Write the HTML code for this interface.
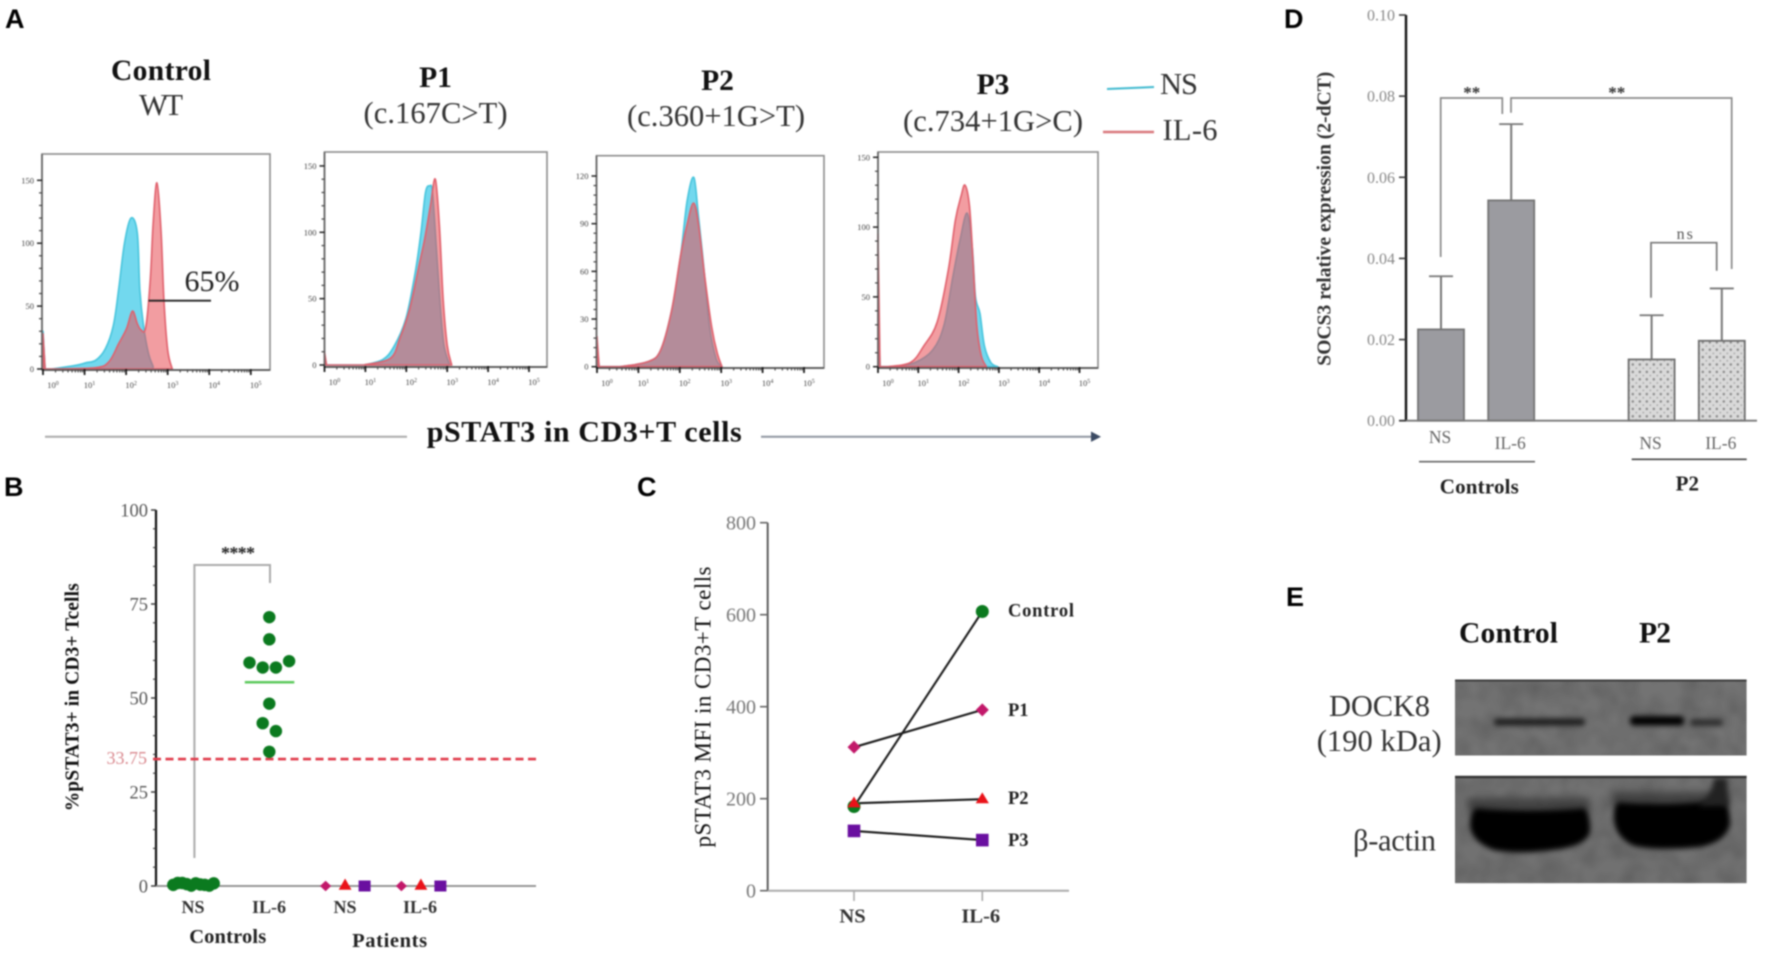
<!DOCTYPE html>
<html>
<head>
<meta charset="utf-8">
<title>pSTAT3 figure</title>
<style>
html,body{margin:0;padding:0;background:#fff;width:1766px;height:964px;overflow:hidden}
svg{display:block;filter:blur(0.75px)}
text{font-family:"Liberation Serif",serif}
.letter{font-family:"Liberation Sans",sans-serif;font-weight:700;font-size:27px;fill:#000}
.h{font-weight:700;font-size:29.5px;fill:#111}
.s{font-size:30.5px;fill:#333}
</style>
</head>
<body>
<svg id="fig" xmlns="http://www.w3.org/2000/svg" width="1766" height="964" viewBox="0 0 1766 964">
<defs>
<pattern id="dots" width="7" height="7.4" patternUnits="userSpaceOnUse">
<rect width="7" height="7.4" fill="#d9d9d9"/>
<circle cx="1.8" cy="1.9" r="1.25" fill="#8d8d8d"/>
<circle cx="5.3" cy="5.6" r="0.9" fill="#a8a8a8"/>
</pattern>
<filter id="soft" x="-20%" y="-80%" width="140%" height="260%" color-interpolation-filters="sRGB"><feGaussianBlur stdDeviation="2.6"/></filter>
<filter id="softer" x="-30%" y="-60%" width="160%" height="220%" color-interpolation-filters="sRGB"><feGaussianBlur stdDeviation="4"/></filter>
<filter id="grain" x="0" y="0" width="100%" height="100%" color-interpolation-filters="sRGB"><feTurbulence type="fractalNoise" baseFrequency="0.05" numOctaves="2" seed="4"/><feColorMatrix values="0 0 0 0 0.25  0 0 0 0 0.25  0 0 0 0 0.25  0.9 0.9 0 0 -0.7"/><feGaussianBlur stdDeviation="1.2"/></filter>
<clipPath id="blotClipTop"><rect x="1455" y="679.5" width="291.7" height="76"/></clipPath>
<clipPath id="blotClipBottom"><rect x="1455" y="775.7" width="291.7" height="107.6"/></clipPath>
</defs>

<!-- panel letters -->
<text class="letter" x="5" y="28">A</text>
<text class="letter" x="4" y="496">B</text>
<text class="letter" x="637" y="496">C</text>
<text class="letter" x="1284" y="28">D</text>
<text class="letter" x="1286" y="606">E</text>

<!-- panel A headings -->
<g>
<text class="h" x="161" y="80" text-anchor="middle" textLength="100">Control</text>
<text class="s" x="161" y="115" text-anchor="middle" textLength="44">WT</text>
<text class="h" x="435.5" y="87" text-anchor="middle">P1</text>
<text class="s" x="435.5" y="123" text-anchor="middle" textLength="144">(c.167C&gt;T)</text>
<text class="h" x="717.5" y="90" text-anchor="middle">P2</text>
<text class="s" x="716" y="126" text-anchor="middle" textLength="178">(c.360+1G&gt;T)</text>
<text class="h" x="993" y="94" text-anchor="middle">P3</text>
<text class="s" x="993" y="131" text-anchor="middle" textLength="180">(c.734+1G&gt;C)</text>
</g>

<g>
<line x1="1107" y1="89" x2="1154" y2="87" stroke="#3fb9cf" stroke-width="2"/>
<text class="s" x="1160" y="94" textLength="38">NS</text>
<line x1="1103" y1="132" x2="1154" y2="132" stroke="#d9777c" stroke-width="2.4"/>
<text class="s" x="1162.5" y="140" textLength="55">IL-6</text>
</g>

<g id="histograms"></g>

<text x="184.5" y="291" font-size="30" fill="#222" textLength="55">65%</text>
<line x1="148.5" y1="300.7" x2="211" y2="300.7" stroke="#222" stroke-width="1.8"/>

<g>
<line x1="45" y1="436.7" x2="407" y2="436.7" stroke="#aaaaaa" stroke-width="2"/>
<text x="426.7" y="441.7" font-size="30" font-weight="700" fill="#111" textLength="315">pSTAT3 in CD3+T cells</text>
<line x1="761" y1="436.7" x2="1092" y2="436.7" stroke="#8f96a0" stroke-width="2"/>
<polygon points="1091,431.5 1101,436.7 1091,441.9" fill="#3b4a63"/>
</g>

<!-- panel B -->
<g id="panelB">
<text transform="translate(78.5,697.3) rotate(-90)" text-anchor="middle" font-size="19.5" font-weight="700" fill="#111" textLength="228">%pSTAT3+ in CD3+ Tcells</text>
<polyline points="194.4,858 194.4,565 270,565 270,583" fill="none" stroke="#aaaaaa" stroke-width="2"/>
<text x="238" y="559" text-anchor="middle" font-size="18" font-weight="700" fill="#222" textLength="34">****</text>
<text x="193" y="913" text-anchor="middle" font-size="18" font-weight="700" fill="#333">NS</text>
<text x="269" y="913" text-anchor="middle" font-size="18" font-weight="700" fill="#333">IL-6</text>
<text x="345" y="913" text-anchor="middle" font-size="18" font-weight="700" fill="#333">NS</text>
<text x="420" y="913" text-anchor="middle" font-size="18" font-weight="700" fill="#333">IL-6</text>
<text x="227.7" y="943" text-anchor="middle" font-size="20.5" font-weight="700" fill="#222" textLength="77">Controls</text>
<text x="389.6" y="947" text-anchor="middle" font-size="20.5" font-weight="700" fill="#222" textLength="75">Patients</text>
</g>

<!-- panel C -->
<g id="panelC">
<text transform="translate(710.7,707) rotate(-90)" text-anchor="middle" font-size="23" fill="#111" textLength="281">pSTAT3 MFI  in CD3+T cells</text>
</g>

<!-- panel D -->
<g id="panelD">
<text transform="translate(1330.7,218.7) rotate(-90)" text-anchor="middle" font-size="19.6" font-weight="700" fill="#333" textLength="294">SOCS3 relative expression (2-dCT)</text>
<polyline points="1440.7,257 1440.7,98 1502.3,98 1502.3,114" fill="none" stroke="#8a8a8a" stroke-width="1.7"/>
<polyline points="1511,112.7 1511,98 1731.7,98 1731.7,269" fill="none" stroke="#8a8a8a" stroke-width="1.7"/>
<polyline points="1651,297.7 1651,242.7 1716.7,242.7 1716.7,270.7" fill="none" stroke="#777" stroke-width="1.7"/>
<text x="1471.7" y="98" text-anchor="middle" font-size="17" font-weight="700" fill="#333">**</text>
<text x="1616.7" y="98" text-anchor="middle" font-size="17" font-weight="700" fill="#333">**</text>
<text x="1685.7" y="239" text-anchor="middle" font-size="16" fill="#555" letter-spacing="2">ns</text>
<line x1="1419" y1="461.7" x2="1535" y2="461.7" stroke="#666" stroke-width="1.6"/>
<line x1="1631.7" y1="459.3" x2="1746.7" y2="459.3" stroke="#444" stroke-width="1.6"/>
<text x="1479.3" y="493.3" text-anchor="middle" font-size="21" font-weight="700" fill="#222" textLength="79">Controls</text>
<text x="1687.3" y="490.7" text-anchor="middle" font-size="21" font-weight="700" fill="#222">P2</text>
</g>

<!-- panel E -->
<g>
<text class="h" x="1459" y="642.7" textLength="99">Control</text>
<text class="h" x="1639" y="642.7" textLength="32">P2</text>
<text class="s" x="1329" y="716" textLength="101">DOCK8</text>
<text class="s" x="1316.7" y="751" textLength="125">(190 kDa)</text>
<text class="s" x="1353" y="850.7" textLength="83">β-actin</text>

<g clip-path="url(#blotClipTop)">
<rect x="1455" y="679.5" width="291.7" height="76" fill="#737373"/>
<rect x="1455" y="679.5" width="291.7" height="76" filter="url(#grain)" opacity="0.45"/>
<rect x="1455" y="679.5" width="291.7" height="2" fill="#3c3c3c"/>
<rect x="1494" y="718.5" width="91" height="7" rx="3" fill="#1c1c1c" filter="url(#soft)"/>
<rect x="1630" y="716" width="54" height="9.5" rx="4" fill="#000" filter="url(#soft)"/>
<rect x="1690" y="719" width="33" height="7" rx="3" fill="#2c2c2c" filter="url(#soft)"/>
</g>
<g clip-path="url(#blotClipBottom)">
<rect x="1455" y="775.7" width="291.7" height="107.6" fill="#717171"/>
<rect x="1455" y="775.7" width="291.7" height="107.6" filter="url(#grain)" opacity="0.45"/>
<rect x="1455" y="775.7" width="291.7" height="2.5" fill="#333"/>
<rect x="1468" y="798" width="122" height="14" fill="#333" opacity="0.75" filter="url(#softer)"/>
<rect x="1612" y="792" width="118" height="14" fill="#333" opacity="0.75" filter="url(#softer)"/>
<path d="M1476,808 Q1530,812 1584,808 Q1590,812 1590,832 Q1586,845 1560,849 Q1520,855 1494,850 Q1472,842 1470,826 Q1470,812 1476,808 Z" fill="#000" filter="url(#soft)"/>
<path d="M1618,802 Q1670,806 1722,800 Q1730,804 1730,824 Q1726,842 1700,847 Q1660,851 1634,846 Q1616,838 1614,820 Q1613,806 1618,802 Z" fill="#000" filter="url(#soft)"/>
<path d="M1714,778 L1727,778 L1728,806 L1698,806 Q1712,796 1714,778 Z" fill="#222" filter="url(#soft)"/>
</g>
</g>
</svg>

<script>
/* ---------- panel A: histogram readings (decade position, event count) ---------- */
const controlNsLog = [0, 0.05, 0.21, 0.81, 1.04, 1.27, 1.50, 1.69, 1.82, 1.96, 2.12, 2.27, 2.33, 2.42, 2.54, 2.65];
const controlNsCount = [30, 0, 0, 3, 5, 7, 16, 34, 63, 100, 120, 108, 63, 34, 12, 2];
const controlIl6Log = [0, 0.05, 0.21, 1.27, 1.59, 1.82, 2.01, 2.15, 2.27, 2.36, 2.47, 2.58, 2.65, 2.74, 2.84, 2.91, 3.00, 3.11];
const controlIl6Count = [28, 0, 0, 1, 6, 20, 32, 46, 36, 31, 33, 70, 115, 148, 110, 55, 15, 0];
const p1NsLog = [0, 0.05, 0.96, 1.42, 1.70, 1.99, 2.22, 2.36, 2.47, 2.57, 2.64, 2.73, 2.83, 2.92, 3.06];
const p1NsCount = [8, 0, 0, 4, 14, 35, 70, 100, 130, 135, 130, 90, 45, 15, 0];
const p1Il6Log = [0, 0.05, 0.96, 1.61, 1.84, 2.08, 2.31, 2.45, 2.59, 2.71, 2.81, 2.90, 3.00, 3.11];
const p1Il6Count = [10, 0, 0, 5, 20, 42, 75, 95, 120, 140, 105, 50, 15, 0];
const p2NsLog = [0, 0.05, 0.56, 1.21, 1.53, 1.80, 2.02, 2.18, 2.34, 2.45, 2.59, 2.72, 2.88, 3.02];
const p2NsCount = [15, 0, 0, 3, 10, 35, 70, 105, 119, 95, 60, 25, 5, 0];
const p2Il6Log = [0, 0.05, 0.56, 1.21, 1.53, 1.80, 2.02, 2.18, 2.33, 2.45, 2.61, 2.77, 2.91, 3.02];
const p2Il6Count = [19, 0, 0, 3, 10, 35, 70, 90, 103, 90, 55, 25, 8, 0];
const p3NsLog = [0, 0.05, 0.37, 0.92, 1.36, 1.64, 1.86, 2.03, 2.21, 2.34, 2.42, 2.53, 2.64, 2.80, 2.97];
const p3NsCount = [60, 0, 0, 3, 12, 30, 65, 90, 110, 85, 50, 38, 15, 3, 0];
const p3Il6Log = [0, 0.05, 0.25, 0.81, 1.14, 1.47, 1.75, 1.92, 2.06, 2.16, 2.27, 2.36, 2.45, 2.56, 2.69];
const p3Il6Count = [95, 0, 0, 3, 15, 32, 70, 105, 122, 130, 115, 75, 30, 8, 0];
const controlYTicks = [0, 50, 100, 150];
const p1YTicks = [0, 50, 100, 150];
const p2YTicks = [0, 30, 60, 90, 120];
const p3YTicks = [0, 50, 100, 150];
const decadeTicks = [0, 1, 2, 3, 4, 5];

/* ---------- panel B ---------- */
const bYTicks = [0, 25, 50, 75, 100];
const bThreshold = [33.75];
const controlsNsValues = [0.3, 0.8, 0.8, 0.5, 0.1, 0.7, 0.4, 0.3, 0.1, 0.7];
const controlsIl6Values = [71.5, 65.6, 59.4, 58.1, 58.1, 59.8, 48.5, 43.3, 41.2, 35.7];
const controlsIl6Slots = [0, 0, -3, -1, 1, 3, 0, -1, 1, 0];
const controlsIl6Mean = [54.2];
const patientsNsValues = [0, 0, 0];
const patientsIl6Values = [0, 0, 0];

/* ---------- panel C ---------- */
const cYTicks = [0, 200, 400, 600, 800];
const cCategories = ['NS', 'IL-6'];
const cControl = [183, 607];
const cP1 = [312, 393];
const cP2 = [190, 199];
const cP3 = [130, 110];

/* ---------- panel D ---------- */
const dYTicks = [0, 0.02, 0.04, 0.06, 0.08, 0.10];
const dCategories = ['NS', 'IL-6', 'NS', 'IL-6'];
const dMeans = [0.0225, 0.0543, 0.0151, 0.0197];
const dUpper = [0.0356, 0.0731, 0.026, 0.0326];

const SVGNS = 'http://www.w3.org/2000/svg';
function mk(tag, attrs, parent, txt) {
  const el = document.createElementNS(SVGNS, tag);
  for (const k in attrs) el.setAttribute(k, attrs[k]);
  if (txt !== undefined) el.textContent = txt;
  parent.appendChild(el);
  return el;
}

/* ---------- histograms ---------- */
function smoothArea(lg, ct, xs, ys) {
  const base = ys(0);
  const px = lg.map(xs), py = ct.map(ys);
  let d = 'M' + px[0].toFixed(1) + ',' + base.toFixed(1) + ' L' + px[0].toFixed(1) + ',' + py[0].toFixed(1) + ' L' + px[1].toFixed(1) + ',' + py[1].toFixed(1) + ' L' + px[2].toFixed(1) + ',' + py[2].toFixed(1);
  for (let i = 2; i < px.length - 1; i++) {
    const x0 = px[Math.max(i - 1, 2)], y0 = py[Math.max(i - 1, 2)];
    const x3 = px[Math.min(i + 2, px.length - 1)], y3 = py[Math.min(i + 2, px.length - 1)];
    const c1x = px[i] + (px[i + 1] - x0) / 6, c1y = Math.min(base, py[i] + (py[i + 1] - y0) / 6);
    const c2x = px[i + 1] - (x3 - px[i]) / 6, c2y = Math.min(base, py[i + 1] - (y3 - py[i]) / 6);
    d += ' C' + c1x.toFixed(1) + ',' + c1y.toFixed(1) + ' ' + c2x.toFixed(1) + ',' + c2y.toFixed(1) + ' ' + px[i + 1].toFixed(1) + ',' + py[i + 1].toFixed(1);
  }
  return d + ' L' + px[px.length - 1].toFixed(1) + ',' + base.toFixed(1) + ' Z';
}
function drawHistogram(p) {
  const host = document.getElementById('histograms');
  const g = mk('g', {}, host);
  
  
  const xs = d => p.x0 + d * p.dec;
  const ys = c => p.y0 - c * p.per;

  const box = mk('rect', {x: p.left, y: p.top, width: p.right - p.left, height: p.bottom - p.top, fill: '#fff', stroke: '#8c8c8c', 'stroke-width': 1.6}, g);
  
  

  const ns = mk('path', {d: smoothArea(p.nsLog, p.nsCount, xs, ys), fill: '#72d8ee', stroke: '#46c4dc', 'stroke-width': 1.6, 'stroke-linejoin': 'round'}, g);
  
  
  const il = mk('path', {d: smoothArea(p.ilLog, p.ilCount, xs, ys), fill: 'rgb(232,80,88)', 'fill-opacity': 0.56, stroke: '#e0606c', 'stroke-width': 1.6, 'stroke-linejoin': 'round'}, g);
  
  

  const bottomAxis = mk('line', {x1: p.left, x2: p.right, y1: p.bottom, y2: p.bottom, stroke: '#555', 'stroke-width': 1.7}, g);
  
  
  const leftAxis = mk('line', {x1: p.left, x2: p.left, y1: p.top, y2: p.bottom, stroke: '#666', 'stroke-width': 1.7}, g);
  
  

  p.yTicks.forEach((t, i) => {
    const y = ys(t);
    const tick = mk('line', {x1: p.left - 5, x2: p.left, y1: y, y2: y, stroke: '#222', 'stroke-width': 1.5}, g);
    
    
    const lab = mk('text', {x: p.left - 8, y: y + 3, 'text-anchor': 'end', 'font-size': 8.5, fill: '#444'}, g, t);
    
    
    if (i < p.yTicks.length - 1) {
      const step = (p.yTicks[i + 1] - t) / 5;
      for (let m = 1; m < 5; m++) {
        const my = ys(t + m * step);
        const minor = mk('line', {x1: p.left - 3, x2: p.left, y1: my, y2: my, stroke: '#444', 'stroke-width': 1.2}, g);
        
        
      }
    }
  });
  decadeTicks.forEach(d => {
    const x = xs(d);
    const tick = mk('line', {x1: x, x2: x, y1: p.bottom - 1, y2: p.bottom + 5, stroke: '#111', 'stroke-width': 1.7}, g);
    
    
    const lab = mk('text', {x: x + (d === 0 ? 10 : 5), y: p.bottom + 18, 'text-anchor': 'middle', 'font-size': 8.5, fill: '#444'}, g);
    
    
    mk('tspan', {}, lab, '10');
    mk('tspan', {dy: -3, 'font-size': 6}, lab, d);
    if (d < 5) {
      for (let m = 2; m < 10; m++) {
        const mx = xs(d + Math.log10(m));
        const minor = mk('line', {x1: mx, x2: mx, y1: p.bottom, y2: p.bottom + 2.5, stroke: '#444', 'stroke-width': 1.1}, g);
        
        
      }
    }
  });
}
drawHistogram({key: 'control', left: 42, right: 270, top: 154, bottom: 370, x0: 43, dec: 41.56, y0: 369, per: 1.258, yTicks: controlYTicks, nsLog: controlNsLog, nsCount: controlNsCount, ilLog: controlIl6Log, ilCount: controlIl6Count});
drawHistogram({key: 'p1', left: 324.5, right: 547, top: 152, bottom: 367, x0: 324.5, dec: 40.9, y0: 365, per: 1.327, yTicks: p1YTicks, nsLog: p1NsLog, nsCount: p1NsCount, ilLog: p1Il6Log, ilCount: p1Il6Count});
drawHistogram({key: 'p2', left: 596.5, right: 824, top: 155.7, bottom: 368, x0: 597, dec: 41.4, y0: 366.7, per: 1.589, yTicks: p2YTicks, nsLog: p2NsLog, nsCount: p2NsCount, ilLog: p2Il6Log, ilCount: p2Il6Count});
drawHistogram({key: 'p3', left: 878, right: 1098, top: 152, bottom: 368, x0: 878, dec: 40.3, y0: 366.7, per: 1.396, yTicks: p3YTicks, nsLog: p3NsLog, nsCount: p3NsCount, ilLog: p3Il6Log, ilCount: p3Il6Count});

/* ---------- shared marker shapes ---------- */
const GREEN = '#0b7a1f', MAGENTA = '#c2186a', RED = '#ea1219', PURPLE = '#6a0fa0';
function diamondPts(x, y, w, h) { return [x - w, y, x, y - h, x + w, y, x, y + h].join(','); }
function trianglePts(x, y, w, h) { return [x - w, y + h * 0.6, x, y - h, x + w, y + h * 0.6].join(','); }

/* ---------- panel B ---------- */
const bY = v => 886 - v * 3.76;
const bX = i => 193.5 + i * 75.8;
(function () {
  const g = document.getElementById('panelB');
  const yAxis = mk('line', {x1: 156, x2: 156, y1: bY(100), y2: bY(0), stroke: '#111', 'stroke-width': 2.2}, g);
  
  
  const xAxis = mk('line', {x1: 156, x2: 536, y1: bY(0), y2: bY(0), stroke: '#888', 'stroke-width': 1.8}, g);
  
  
  bYTicks.forEach(t => {
    const tick = mk('line', {x1: 151, x2: 156, y1: bY(t), y2: bY(t), stroke: '#333', 'stroke-width': 1.4}, g);
    
    
    const lab = mk('text', {x: 148, y: bY(t) + 6.5, 'text-anchor': 'end', 'font-size': 18.5, fill: '#555'}, g, t);
    
    
    if (t < 100) {
      for (let m = 1; m < 5; m++) {
        const minor = mk('line', {x1: 153, x2: 156, y1: bY(t + m * 5), y2: bY(t + m * 5), stroke: '#333', 'stroke-width': 1.1}, g);
        
        
      }
    }
  });
  const thr = mk('line', {x1: 153, x2: 536, y1: bY(bThreshold[0]), y2: bY(bThreshold[0]), stroke: '#e03a4a', 'stroke-width': 2.6, 'stroke-dasharray': '8 4.5'}, g);
  
  
  const thrLab = mk('text', {x: 147, y: bY(bThreshold[0]) + 5, 'text-anchor': 'end', 'font-size': 18, fill: '#d9888e'}, g, bThreshold[0]);
  
  

  controlsNsValues.forEach((v, i) => {
    const d = mk('circle', {cx: bX(0) + (i - 4.5) * 4.5, cy: bY(v), r: 6.2, fill: GREEN}, g);
    
    
  });
  controlsIl6Values.forEach((v, i) => {
    const d = mk('circle', {cx: bX(1) + controlsIl6Slots[i] * 6.6, cy: bY(v), r: 6.2, fill: GREEN}, g);
    
    
  });
  const mean = mk('line', {x1: bX(1) - 24.5, x2: bX(1) + 25, y1: bY(controlsIl6Mean[0]), y2: bY(controlsIl6Mean[0]), stroke: '#5cc95c', 'stroke-width': 2.5}, g);
  
  

  function patientMarkers(values, cat, key) {
    const cx = bX(cat);
    const a = mk('polygon', {points: diamondPts(cx - 19.5, bY(values[0]), 5.6, 5.2), fill: MAGENTA}, g);
    
    
    const b = mk('polygon', {points: trianglePts(cx, bY(values[1]) - 0.5, 6.4, 7), fill: RED}, g);
    
    
    const c = mk('rect', {x: cx + 13.5, y: bY(values[2]) - 5.5, width: 12, height: 11, fill: PURPLE}, g);
    
    
  }
  patientMarkers(patientsNsValues, 2, 'patients-ns');
  patientMarkers(patientsIl6Values, 3, 'patients-il6');
})();

/* ---------- panel C ---------- */
const cY = v => 890.7 - v * 0.46;
const cX = i => 854 + i * 128.3;
(function () {
  const g = document.getElementById('panelC');
  const yAxis = mk('line', {x1: 767.7, x2: 767.7, y1: cY(800), y2: cY(0), stroke: '#555', 'stroke-width': 1.9}, g);
  
  
  const xAxis = mk('line', {x1: 767.7, x2: 1069, y1: cY(0), y2: cY(0), stroke: '#aaa', 'stroke-width': 2}, g);
  
  
  cYTicks.forEach(t => {
    const tick = mk('line', {x1: 760, x2: 767.7, y1: cY(t), y2: cY(t), stroke: '#666', 'stroke-width': 1.6}, g);
    
    
    const lab = mk('text', {x: 756, y: cY(t) + 7, 'text-anchor': 'end', 'font-size': 20, fill: '#777'}, g, t);
    
    
  });
  cCategories.forEach((c, i) => {
    const tick = mk('line', {x1: cX(i), x2: cX(i), y1: cY(0), y2: 901, stroke: '#aaa', 'stroke-width': 1.6}, g);
    
    
    const lab = mk('text', {x: cX(i) - 1.5, y: 922.7, 'text-anchor': 'middle', 'font-size': 20.5, 'font-weight': 700, fill: '#333'}, g, c);
    
    
  });
  function seriesLine(vals, key) {
    const l = mk('line', {x1: cX(0), x2: cX(1), y1: cY(vals[0]), y2: cY(vals[1]), stroke: '#1c1c1c', 'stroke-width': 2.1}, g);
    
    
  }
  seriesLine(cP1, 'p1');
  seriesLine(cControl, 'control');
  seriesLine(cP2, 'p2');
  seriesLine(cP3, 'p3');
  cControl.forEach((v, i) => {
    const m = mk('circle', {cx: cX(i), cy: cY(v), r: 6.5, fill: GREEN}, g);
    
    
  });
  cP1.forEach((v, i) => {
    const m = mk('polygon', {points: diamondPts(cX(i), cY(v), 6.5, 6.5), fill: MAGENTA}, g);
    
    
  });
  cP2.forEach((v, i) => {
    const m = mk('polygon', {points: trianglePts(cX(i), cY(v), 6.6, 6.8), fill: RED}, g);
    
    
  });
  cP3.forEach((v, i) => {
    const m = mk('rect', {x: cX(i) - 6.3, y: cY(v) - 6.3, width: 12.6, height: 12.6, fill: PURPLE}, g);
    
    
  });
  const tc = mk('text', {x: 1008, y: 616.7, 'font-size': 18.5, 'font-weight': 700, fill: '#222', textLength: 66}, g, 'Control');
  
  
  const t1 = mk('text', {x: 1008, y: 716, 'font-size': 18.5, 'font-weight': 700, fill: '#222'}, g, 'P1');
  
  
  const t2 = mk('text', {x: 1008, y: 804, 'font-size': 18.5, 'font-weight': 700, fill: '#222'}, g, 'P2');
  
  
  const t3 = mk('text', {x: 1008, y: 846, 'font-size': 18.5, 'font-weight': 700, fill: '#222'}, g, 'P3');
  
  
})();

/* ---------- panel D ---------- */
const dY = v => 420.7 - v * 4057;
const dX = i => 1441 + 70.2 * (i < 2 ? i : i + 1);
(function () {
  const g = document.getElementById('panelD');
  dMeans.forEach((v, i) => {
    const cx = dX(i);
    const err = mk('line', {x1: cx, x2: cx, y1: dY(dUpper[i]), y2: dY(v), stroke: '#777', 'stroke-width': 2}, g);
    
    
    const cap = mk('line', {x1: cx - 12, x2: cx + 12, y1: dY(dUpper[i]), y2: dY(dUpper[i]), stroke: '#777', 'stroke-width': 1.8}, g);
    
    
    const bar = mk('rect', {x: cx - 23, y: dY(v), width: 46, height: dY(0) - dY(v), fill: i < 2 ? '#9b9ba0' : 'url(#dots)', stroke: i < 2 ? '#737373' : '#6e6e6e', 'stroke-width': 1.8}, g);
    
    
    const lab = mk('text', {x: cx - 1, y: i === 0 ? 443 : 449, 'text-anchor': 'middle', 'font-size': 17.5, fill: '#666'}, g, dCategories[i]);
    
    
  });
  const yAxis = mk('line', {x1: 1406, x2: 1406, y1: dY(0.10), y2: dY(0), stroke: '#111', 'stroke-width': 2.4}, g);
  
  
  const xAxis = mk('line', {x1: 1399, x2: 1757, y1: dY(0), y2: dY(0), stroke: '#777', 'stroke-width': 1.8}, g);
  
  
  dYTicks.forEach(t => {
    const tick = mk('line', {x1: 1399, x2: 1406, y1: dY(t), y2: dY(t), stroke: '#333', 'stroke-width': 1.5}, g);
    
    
    const lab = mk('text', {x: 1395, y: dY(t) + 5.5, 'text-anchor': 'end', 'font-size': 16, fill: '#888'}, g, t.toFixed(2));
    
    
  });
})();
</script>
</body>
</html>
